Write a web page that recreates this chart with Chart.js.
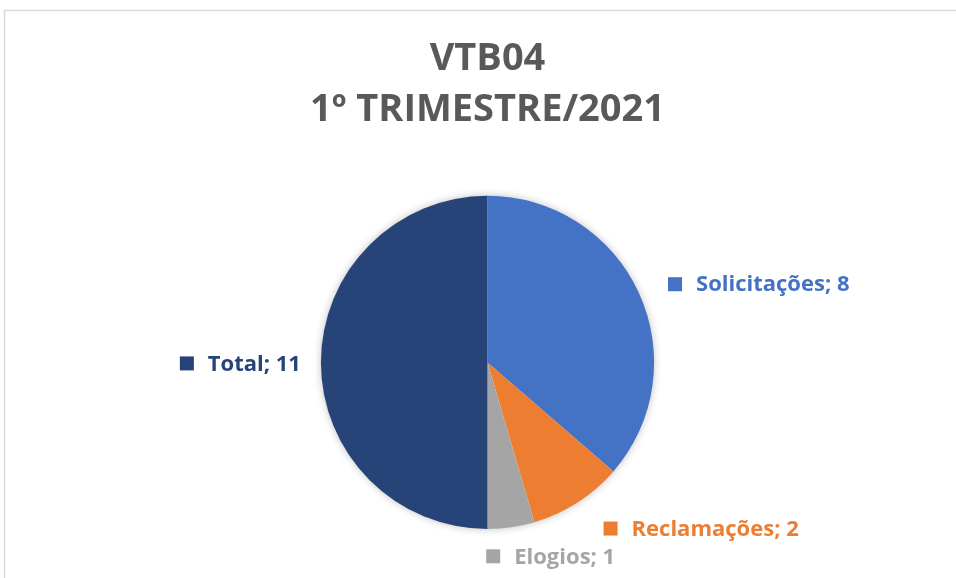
<!DOCTYPE html>
<html>
<head>
<meta charset="utf-8">
<script src="https://cdn.jsdelivr.net/npm/chart.js@4/dist/chart.umd.min.js"></script>
<style>
html,body{margin:0;padding:0;background:#fff;}
#wrap{position:relative;width:956px;height:578px;}
</style>
</head>
<body>
<div id="wrap"><canvas id="c" width="956" height="578"></canvas></div>
<script>
const categories = ['Solicitações', 'Reclamações', 'Elogios', 'Total'];
const values = [8, 2, 1, 11];
const colors = ['#4472C4', '#ED7D31', '#A5A5A5', '#264478'];
const labelColors = ['#4472C4', '#ED7D31', '#A5A5A5', '#264478'];
const titleLines = ['VTB04', '1º TRIMESTRE/2021'];

const FONT = "'Open Sans', sans-serif";

const frame = {
  id: 'frame',
  beforeDraw(chart) {
    const ctx = chart.ctx;
    ctx.save();
    ctx.fillStyle = '#fff';
    ctx.fillRect(0, 0, chart.width, chart.height);
    ctx.strokeStyle = '#d9d9d9';
    ctx.lineWidth = 1.5;
    ctx.beginPath();
    ctx.moveTo(4.5, chart.height);
    ctx.lineTo(4.5, 10.5);
    ctx.lineTo(chart.width, 10.5);
    ctx.stroke();
    ctx.restore();
  }
};

const shadow = {
  id: 'shadow',
  beforeDatasetsDraw(chart) {
    const ctx = chart.ctx;
    ctx.save();
    ctx.shadowColor = 'rgba(0,0,0,0.28)';
    ctx.shadowBlur = 8;
    const arc = chart.getDatasetMeta(0).data[0];
    ctx.fillStyle = '#fff';
    ctx.beginPath();
    ctx.arc(arc.x, arc.y, arc.outerRadius - 0.5, 0, Math.PI * 2);
    ctx.fill();
    ctx.restore();
  }
};

const sideLabels = {
  id: 'sideLabels',
  afterDatasetsDraw(chart, args, opts) {
    const ctx = chart.ctx;
    const meta = chart.getDatasetMeta(0);
    const labels = chart.data.labels;
    const ds = chart.data.datasets[0];
    ctx.save();
    ctx.font = opts.font;
    ctx.textBaseline = 'middle';
    meta.data.forEach((arc, i) => {
      const mid = (arc.startAngle + arc.endAngle) / 2;
      const r = arc.outerRadius;
      const ax = arc.x + Math.cos(mid) * r;
      const ay = arc.y + Math.sin(mid) * r;
      const off = opts.offsets[i];
      const text = labels[i] + '; ' + ds.data[i];
      const tw = ctx.measureText(text).width;
      const sq = opts.square, gap = opts.gap;
      const total = sq + gap + tw;
      let left;
      if (off.align === 'right') left = ax + off.dx - total;
      else left = ax + off.dx;
      const cy = ay + off.dy;
      ctx.fillStyle = ds.backgroundColor[i];
      ctx.fillRect(left, cy - sq / 2, sq, sq);
      ctx.fillStyle = opts.colors[i];
      ctx.fillText(text, left + sq + gap, cy + 1);
    });
    ctx.restore();
  }
};

new Chart(document.getElementById('c'), {
  type: 'pie',
  data: {
    labels: categories,
    datasets: [{
      data: values,
      backgroundColor: colors,
      borderWidth: 0,
      hoverOffset: 0
    }]
  },
  options: {
    responsive: false,
    animation: false,
    events: [],
    layout: { padding: { left: 100, right: 81, top: 0, bottom: 49 } },
    plugins: {
      legend: { display: false },
      tooltip: { enabled: false },
      title: {
        display: true,
        text: titleLines,
        color: '#595959',
        font: { family: FONT, size: 38, weight: 'bold', lineHeight: 1.34 },
        padding: { top: 34, bottom: 60 }
      },
      sideLabels: {
        font: "bold 22px " + FONT,
        square: 14,
        gap: 14,
        colors: labelColors,
        offsets: [
          { dx: 29, dy: -9, align: 'left' },
          { dx: 26, dy: 26, align: 'left' },
          { dx: -25, dy: 29, align: 'left' },
          { dx: -20, dy: 1, align: 'right' }
        ]
      }
    }
  },
  plugins: [frame, shadow, sideLabels]
});
</script>
</body>
</html>
